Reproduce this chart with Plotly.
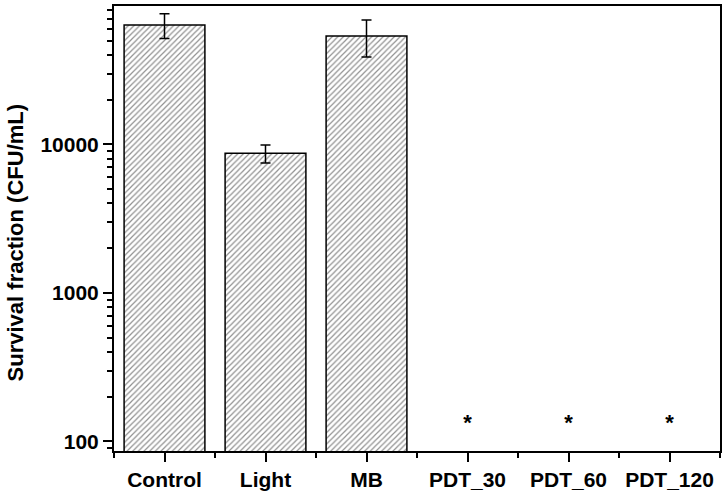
import plotly.graph_objects as go

categories = ["Control", "Light", "MB", "PDT_30", "PDT_60", "PDT_120"]
bar_values = [63700, 8700, 53700]
bar_errors = [12000, 1200, 15000]
star_categories = ["PDT_30", "PDT_60", "PDT_120"]
star_values = [130, 130, 130]

FONT = "Liberation Sans, Arial, sans-serif"
pos = {c: i for i, c in enumerate(categories)}

fig = go.Figure()
fig.add_trace(go.Bar(
    x=[pos[c] for c in categories[:len(bar_values)]],
    y=bar_values,
    width=0.8,
    marker=dict(
        color="white",
        line=dict(color="black", width=1.5),
        pattern=dict(shape="/", fgcolor="#222222", bgcolor="white", size=4, solidity=0.3),
    ),
    error_y=dict(type="data", array=bar_errors, visible=True, color="black", thickness=1.5, width=5),
    showlegend=False,
))
fig.add_trace(go.Scatter(
    x=[pos[c] for c in star_categories],
    y=star_values,
    mode="text",
    text=["<b>*</b>"] * len(star_categories),
    textfont=dict(family=FONT, size=22, color="black"),
    showlegend=False,
))

fig.update_layout(
    width=728, height=494,
    margin=dict(l=114, r=8, t=6, b=43),
    plot_bgcolor="white", paper_bgcolor="white",
    font=dict(family=FONT, size=21, color="black"),
    annotations=[dict(
        text="<b>Survival fraction (CFU/mL)</b>",
        xref="paper", yref="paper", x=-0.163, y=0.467,
        textangle=-90, showarrow=False,
        font=dict(family=FONT, size=22, color="black"),
        xanchor="center", yanchor="middle",
    )],
)
fig.update_xaxes(
    range=[-0.5, 5.5],
    tickmode="array",
    tickvals=list(range(len(categories))),
    ticktext=["<b>%s</b>" % c for c in categories],
    ticks="outside", ticklen=9, tickwidth=1.5, tickcolor="black",
    minor=dict(tickmode="linear", tick0=0.5, dtick=1, ticks="outside", ticklen=5, tickwidth=1.5, tickcolor="black", showgrid=False),
    showline=True, linecolor="black", linewidth=2, mirror=True,
    showgrid=False, zeroline=False, automargin=False,
    tickfont=dict(family=FONT, size=21, color="black"),
)
fig.update_yaxes(
    type="log",
    range=[1.935, 4.932],
    tickvals=[100, 1000, 10000],
    ticktext=["<b>100</b>", "<b>1000</b>", "<b>10000</b>"],
    ticks="outside", ticklen=9, tickwidth=1.5, tickcolor="black",
    minor=dict(dtick="D1", ticks="outside", ticklen=5, tickwidth=1.5, tickcolor="black", showgrid=False),
    showline=True, linecolor="black", linewidth=2, mirror=True,
    showgrid=False, zeroline=False, automargin=False,
    tickfont=dict(family=FONT, size=21, color="black"),
)

fig.write_html(
    "out.html",
    config={"displayModeBar": False},
    post_script="document.body.style.margin='0';document.body.style.padding='0';",
)
